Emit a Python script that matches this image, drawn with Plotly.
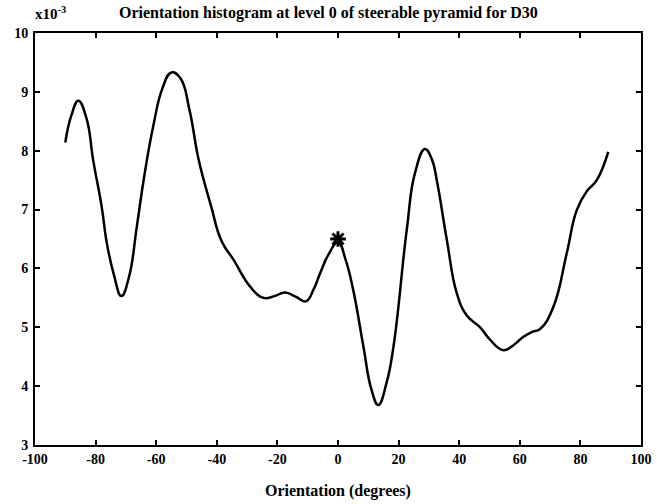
import plotly.graph_objects as go

orientation_deg = [-90, -88, -85.7, -83, -80.8, -78, -76.3, -74, -71.5, -69, -66.4, -64, -61, -58, -55, -52,
                   -49, -46, -42, -38.4, -34.5, -29, -24.6, -21, -17.5, -14, -10.6, -8, -5.9, -3, 0, 2.5,
                   5, 8.4, 11, 13.3, 16, 18.3, 22.7, 25.4, 28.7, 31, 32.6, 35.9, 39.2, 42.5, 46.9, 50,
                   54.6, 58, 61.2, 64, 66.7, 71.1, 75.5, 78.8, 82.1, 85.4, 89.2]
histogram_e3 = [8.14, 8.6, 8.85, 8.55, 7.84, 7.05, 6.43, 5.9, 5.53, 5.85, 6.71, 7.55, 8.41, 9.05, 9.33, 9.23,
                8.69, 7.85, 7.08, 6.46, 6.15, 5.69, 5.50, 5.53, 5.59, 5.52, 5.44, 5.65, 5.92, 6.25, 6.45, 6.15,
                5.64, 4.67, 3.95, 3.68, 4.05, 4.67, 6.66, 7.62, 8.03, 7.85, 7.5, 6.49, 5.58, 5.2, 5.0, 4.8,
                4.61, 4.7, 4.84, 4.92, 4.97, 5.35, 6.26, 6.99, 7.31, 7.5, 7.98]
peak_x = [0]
peak_y = [6.5]

x_ticks = [-100, -80, -60, -40, -20, 0, 20, 40, 60, 80, 100]
y_ticks = [3, 4, 5, 6, 7, 8, 9, 10]

font_family = "Liberation Serif"

fig = go.Figure()
fig.add_trace(go.Scatter(x=orientation_deg, y=histogram_e3, mode="lines",
                         line=dict(color="black", width=2.5, shape="spline", smoothing=1.3),
                         showlegend=False, hoverinfo="skip"))
fig.add_trace(go.Scatter(x=peak_x, y=peak_y, mode="markers",
                         marker=dict(symbol="asterisk-open", size=13, color="black",
                                     line=dict(color="black", width=3)),
                         showlegend=False))

axis_common = dict(showline=True, linecolor="black", linewidth=2, mirror="ticks",
                   ticks="inside", ticklen=5, tickwidth=1.5, tickcolor="black",
                   showgrid=False, zeroline=False, automargin=False,
                   tickfont=dict(family=font_family, size=14, color="black", weight="bold"))

fig.update_layout(
    width=657, height=504,
    margin=dict(l=35, r=16, t=33, b=59, autoexpand=False),
    paper_bgcolor="white", plot_bgcolor="white",
    xaxis=dict(range=[-100, 100], tickvals=x_ticks, ticktext=[str(v) for v in x_ticks],
               **axis_common),
    yaxis=dict(range=[3, 10], tickvals=y_ticks, ticktext=[str(v) for v in y_ticks],
               ticklabelstandoff=2, **axis_common),
    annotations=[
        dict(text="<b>Orientation histogram at level 0 of steerable pyramid for D30</b>",
             xref="paper", yref="paper", x=0.485, y=1.0, yshift=20, xanchor="center", yanchor="middle",
             showarrow=False, font=dict(family=font_family, size=16, color="black")),
        dict(text="<b>Orientation (degrees)</b>",
             xref="paper", yref="paper", x=0.5, y=0, yshift=-46, xanchor="center", yanchor="middle",
             showarrow=False, font=dict(family=font_family, size=16, color="black")),
        dict(text="<b>x10<sup>-3</sup></b>", xref="paper", yref="paper",
             x=-0.004, y=1.0, yshift=20, xanchor="left", yanchor="middle", showarrow=False,
             font=dict(family=font_family, size=15, color="black")),
    ],
)

fig.write_html("out.html")
